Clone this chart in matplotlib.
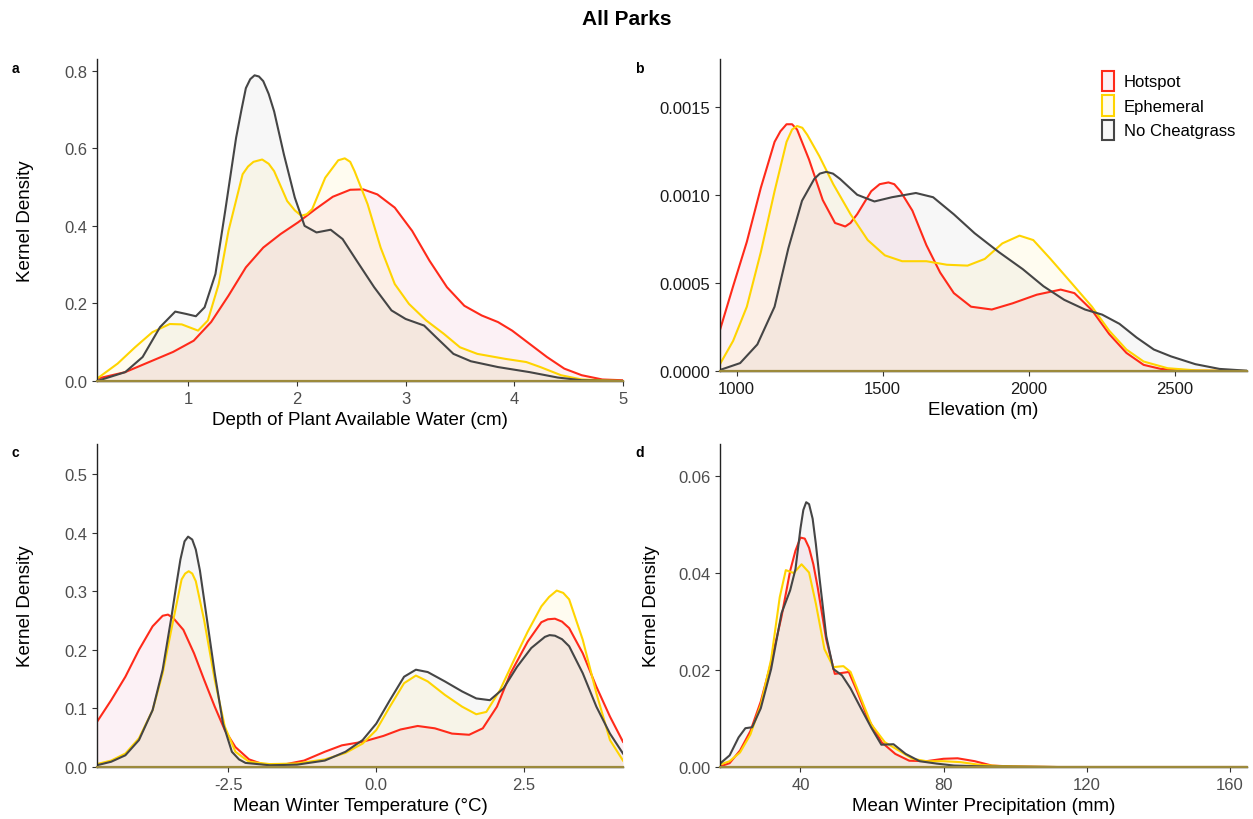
import matplotlib
matplotlib.use('Agg')
import matplotlib.pyplot as plt
from matplotlib.patches import Patch

plt.rcParams['font.family'] = ['Liberation Sans', 'DejaVu Sans']

groups = ['Hotspot', 'Ephemeral', 'No Cheatgrass']
line_cols = ['#ff2a1a', '#ffd400', '#454545']
fill_cols = ['#d81b60', '#ffd400', '#000000']
fill_alpha = [0.06, 0.06, 0.03]

# a: depth of plant available water (cm)
a_hot_x = [0.16, 0.42, 0.64, 0.86, 1.05, 1.21, 1.37, 1.53, 1.69, 1.85, 2.01, 2.17, 2.33, 2.49, 2.61,
           2.74, 2.90, 3.06, 3.22, 3.38, 3.54, 3.70, 3.85, 3.98, 4.14, 4.30, 4.46, 4.62, 4.81, 5.0]
a_hot_y = [0.006, 0.023, 0.049, 0.075, 0.104, 0.152, 0.220, 0.293, 0.344, 0.379, 0.409, 0.443, 0.475, 0.493, 0.494,
           0.481, 0.447, 0.387, 0.310, 0.242, 0.194, 0.169, 0.152, 0.130, 0.096, 0.062, 0.032, 0.015, 0.004, 0.002]
a_eph_x = [0.16, 0.35, 0.51, 0.67, 0.83, 0.94, 1.09, 1.18, 1.28, 1.37, 1.50, 1.55, 1.60, 1.68, 1.74, 1.79, 1.91,
           1.98, 2.04, 2.09, 2.14, 2.26, 2.38, 2.44, 2.49, 2.53, 2.65, 2.77, 2.90, 3.03, 3.19, 3.35, 3.50, 3.66,
           3.92, 4.11, 4.24, 4.43, 4.62, 5.0]
a_eph_y = [0.006, 0.045, 0.087, 0.126, 0.147, 0.146, 0.130, 0.156, 0.250, 0.387, 0.533, 0.553, 0.565, 0.571, 0.560,
           0.541, 0.464, 0.440, 0.426, 0.430, 0.443, 0.524, 0.569, 0.574, 0.565, 0.541, 0.456, 0.344, 0.250, 0.199,
           0.156, 0.122, 0.087, 0.070, 0.057, 0.049, 0.036, 0.015, 0.004, 0.0]
a_no_x = [0.16, 0.42, 0.58, 0.74, 0.88, 0.98, 1.07, 1.15, 1.25, 1.34, 1.44, 1.49, 1.53, 1.57, 1.61, 1.65, 1.69,
          1.74, 1.79, 1.88, 1.98, 2.07, 2.18, 2.31, 2.42, 2.55, 2.71, 2.87, 3.00, 3.17, 3.28, 3.44, 3.60, 3.85,
          4.14, 4.40, 4.62, 5.0]
a_no_y = [0.0, 0.023, 0.062, 0.139, 0.179, 0.173, 0.167, 0.190, 0.276, 0.439, 0.627, 0.700, 0.755, 0.778, 0.788,
          0.785, 0.773, 0.740, 0.695, 0.584, 0.473, 0.400, 0.383, 0.390, 0.366, 0.310, 0.242, 0.182, 0.160, 0.143,
          0.113, 0.070, 0.051, 0.036, 0.023, 0.009, 0.002, 0.0]

# b: elevation (m)
b_hot_x = [943, 988, 1035, 1083, 1130, 1150, 1171, 1190, 1207, 1248, 1295, 1337, 1355, 1372, 1390, 1413, 1461,
           1490, 1520, 1540, 1561, 1602, 1650, 1697, 1744, 1803, 1874, 1945, 2028, 2110, 2157, 2217, 2276, 2335,
           2394, 2453, 2571, 2748]
b_hot_y = [0.000233, 0.000481, 0.000733, 0.00104, 0.0013, 0.00136, 0.0014, 0.0014, 0.00137, 0.0012, 0.00097,
           0.00084, 0.00083, 0.00082, 0.00084, 0.00089, 0.00102, 0.00106, 0.00107, 0.00106, 0.00102, 0.00091,
           0.000714, 0.000559, 0.000442, 0.000365, 0.000349, 0.000384, 0.000433, 0.000462, 0.000442, 0.000345,
           0.00021, 0.000103, 0.000035, 0.000012, 0.000002, 0.0]
b_eph_x = [943, 988, 1035, 1083, 1130, 1171, 1190, 1207, 1225, 1242, 1283, 1331, 1390, 1449, 1508, 1567, 1650,
           1720, 1791, 1850, 1910, 1969, 2016, 2075, 2146, 2217, 2276, 2335, 2394, 2476, 2571, 2748]
b_eph_y = [0.000039, 0.000171, 0.000365, 0.000675, 0.00102, 0.0013, 0.00137, 0.00139, 0.00138, 0.00134, 0.00122,
           0.00106, 0.00089, 0.000743, 0.000656, 0.000623, 0.000623, 0.000603, 0.000598, 0.000636, 0.000724,
           0.000768, 0.000743, 0.000636, 0.000501, 0.000365, 0.000229, 0.000122, 0.000054, 0.000016, 0.000004, 0.0]
b_no_x = [943, 1012, 1071, 1130, 1177, 1224, 1266, 1285, 1307, 1330, 1354, 1413, 1472, 1532, 1614, 1673, 1744,
          1815, 1898, 1980, 2051, 2122, 2193, 2252, 2311, 2370, 2429, 2488, 2571, 2654, 2748]
b_no_y = [0.000006, 0.000045, 0.000151, 0.000365, 0.000695, 0.000966, 0.00109, 0.00112, 0.00113, 0.00112, 0.00109,
          0.001, 0.000962, 0.000986, 0.00101, 0.000986, 0.000889, 0.000782, 0.000675, 0.000578, 0.000481, 0.000404,
          0.000349, 0.00032, 0.000268, 0.00019, 0.000122, 0.000083, 0.000039, 0.000012, 0.000002]

# c: mean winter temperature (degC)
c_hot_x = [-4.72, -4.48, -4.24, -4.01, -3.78, -3.61, -3.52, -3.43, -3.26, -3.08, -2.91, -2.73, -2.56, -2.38,
           -2.15, -1.92, -1.57, -1.22, -0.87, -0.58, -0.23, 0.12, 0.41, 0.70, 0.99, 1.28, 1.57, 1.80, 2.04, 2.27,
           2.56, 2.79, 2.90, 3.02, 3.14, 3.26, 3.49, 3.72, 3.95, 4.17]
c_hot_y = [0.077, 0.114, 0.154, 0.200, 0.240, 0.258, 0.260, 0.254, 0.234, 0.194, 0.149, 0.103, 0.063, 0.034,
           0.013, 0.005, 0.004, 0.011, 0.026, 0.037, 0.043, 0.053, 0.064, 0.070, 0.066, 0.057, 0.055, 0.066, 0.103,
           0.160, 0.214, 0.247, 0.252, 0.253, 0.248, 0.237, 0.194, 0.137, 0.086, 0.043]
c_eph_x = [-4.72, -4.48, -4.24, -4.01, -3.78, -3.61, -3.43, -3.29, -3.23, -3.17, -3.11, -3.05, -2.91, -2.73,
           -2.56, -2.38, -2.15, -1.80, -1.34, -0.87, -0.52, -0.23, 0.0, 0.23, 0.47, 0.67, 0.87, 1.16, 1.45, 1.69,
           1.86, 2.09, 2.33, 2.56, 2.79, 2.92, 3.05, 3.16, 3.26, 3.49, 3.72, 3.95, 4.17]
c_eph_y = [0.005, 0.011, 0.023, 0.049, 0.097, 0.160, 0.251, 0.320, 0.330, 0.334, 0.330, 0.317, 0.251, 0.149,
           0.069, 0.026, 0.009, 0.005, 0.006, 0.013, 0.024, 0.040, 0.063, 0.103, 0.143, 0.156, 0.146, 0.123, 0.103,
           0.090, 0.094, 0.131, 0.183, 0.231, 0.274, 0.290, 0.301, 0.297, 0.286, 0.217, 0.126, 0.046, 0.011]
c_no_x = [-4.72, -4.48, -4.24, -4.01, -3.78, -3.61, -3.46, -3.38, -3.31, -3.24, -3.18, -3.11, -3.05, -2.98,
          -2.91, -2.73, -2.59, -2.44, -2.32, -2.21, -1.80, -1.34, -0.87, -0.52, -0.23, 0.0, 0.23, 0.47, 0.67, 0.87,
          1.16, 1.45, 1.69, 1.92, 2.15, 2.38, 2.62, 2.85, 2.93, 3.02, 3.14, 3.26, 3.49, 3.72, 3.95, 4.17]
c_no_y = [0.003, 0.009, 0.020, 0.046, 0.097, 0.166, 0.257, 0.310, 0.354, 0.385, 0.393, 0.388, 0.371, 0.335,
          0.286, 0.160, 0.074, 0.026, 0.013, 0.007, 0.003, 0.004, 0.011, 0.026, 0.046, 0.074, 0.114, 0.154, 0.166,
          0.162, 0.146, 0.129, 0.117, 0.114, 0.134, 0.171, 0.203, 0.222, 0.225, 0.224, 0.218, 0.206, 0.160, 0.103,
          0.057, 0.023]

# d: mean winter precipitation (mm)
d_hot_x = [17.5, 20.2, 23.1, 26.0, 28.9, 31.8, 34.7, 37.1, 38.6, 40.0, 41.2, 42.4, 43.6, 44.8, 47.2, 49.6, 51.6,
           53.5, 55.9, 58.8, 62.7, 66.5, 70.4, 75.2, 80.0, 83.9, 88.7, 93.5, 99.3, 111.8, 164.8]
d_hot_y = [0.0001, 0.0008, 0.0034, 0.0074, 0.0135, 0.0216, 0.031, 0.0404, 0.0446, 0.0473, 0.0471, 0.0452,
           0.0418, 0.0371, 0.0263, 0.0192, 0.0194, 0.0196, 0.0155, 0.0101, 0.0051, 0.0027, 0.0013, 0.0012, 0.0017,
           0.0018, 0.0012, 0.0003, 0.0001, 0.0, 0.0]
d_eph_x = [17.5, 20.2, 23.1, 26.0, 28.9, 31.8, 34.2, 35.9, 38.1, 40.3, 42.4, 44.3, 46.7, 49.2, 52.0, 54.0,
           56.9, 59.8, 63.6, 67.5, 71.3, 75.2, 80.0, 84.8, 89.6, 95.4, 102.2, 111.8, 164.8]
d_eph_y = [0.0005, 0.0012, 0.003, 0.0067, 0.0128, 0.0222, 0.035, 0.0406, 0.040, 0.0418, 0.0401, 0.0337, 0.0243,
           0.0206, 0.0208, 0.0196, 0.0142, 0.0088, 0.0051, 0.0034, 0.0017, 0.0012, 0.0012, 0.001, 0.0005, 0.0002,
           0.0001, 0.0, 0.0]
d_no_x = [17.5, 20.2, 22.7, 24.6, 26.5, 28.9, 31.8, 34.7, 37.1, 38.6, 40.0, 40.8, 41.6, 42.4, 43.4, 44.3, 45.3,
          47.2, 49.2, 51.6, 54.0, 56.9, 59.8, 62.6, 66.0, 69.4, 73.3, 78.1, 82.9, 92.5, 111.8, 164.8]
d_no_y = [0.0007, 0.0024, 0.0061, 0.008, 0.0082, 0.0121, 0.0202, 0.0317, 0.0364, 0.0408, 0.0492, 0.053, 0.0546,
          0.0542, 0.0512, 0.046, 0.0391, 0.027, 0.0202, 0.0189, 0.0162, 0.0121, 0.0081, 0.0046, 0.0047, 0.0027,
          0.0012, 0.0007, 0.0003, 0.0001, 0.0, 0.0]

panels = [
    dict(pos=[0.0774, 0.5341, 0.4198, 0.3927], tag='a', tagy=0.924, ylx=-0.1198,
         series=[(a_hot_x, a_hot_y), (a_eph_x, a_eph_y), (a_no_x, a_no_y)],
         xlim=(0.16, 5.0), ylim=(0, 0.83), xticks=[1, 2, 3, 4, 5], xtl=['1', '2', '3', '4', '5'],
         yticks=[0, 0.2, 0.4, 0.6, 0.8], ytl=['0.0', '0.2', '0.4', '0.6', '0.8'],
         xlabel='Depth of Plant Available Water (cm)', ylabel='Kernel Density', tc='#4d4d4d'),
    dict(pos=[0.5746, 0.5463, 0.4206, 0.3805], tag='b', tagy=0.924, ylx=None,
         series=[(b_hot_x, b_hot_y), (b_eph_x, b_eph_y), (b_no_x, b_no_y)],
         xlim=(943, 2748), ylim=(0, 0.00177), xticks=[1000, 1500, 2000, 2500],
         xtl=['1000', '1500', '2000', '2500'],
         yticks=[0, 0.0005, 0.001, 0.0015], ytl=['0.0000', '0.0005', '0.0010', '0.0015'],
         xlabel='Elevation (m)', ylabel=None, tc='#1a1a1a'),
    dict(pos=[0.0774, 0.0634, 0.4198, 0.3939], tag='c', tagy=0.456, ylx=-0.1198,
         series=[(c_hot_x, c_hot_y), (c_eph_x, c_eph_y), (c_no_x, c_no_y)],
         xlim=(-4.72, 4.17), ylim=(0, 0.551), xticks=[-2.5, 0, 2.5], xtl=['-2.5', '0.0', '2.5'],
         yticks=[0, 0.1, 0.2, 0.3, 0.4, 0.5], ytl=['0.0', '0.1', '0.2', '0.3', '0.4', '0.5'],
         xlabel='Mean Winter Temperature (°C)', ylabel='Kernel Density', tc='#4d4d4d'),
    dict(pos=[0.5746, 0.0634, 0.4206, 0.3939], tag='d', tagy=0.456, ylx=-0.1138,
         series=[(d_hot_x, d_hot_y), (d_eph_x, d_eph_y), (d_no_x, d_no_y)],
         xlim=(17.5, 164.8), ylim=(0, 0.0666), xticks=[40, 80, 120, 160], xtl=['40', '80', '120', '160'],
         yticks=[0, 0.02, 0.04, 0.06], ytl=['0.00', '0.02', '0.04', '0.06'],
         xlabel='Mean Winter Precipitation (mm)', ylabel='Kernel Density', tc='#4d4d4d'),
]

fig = plt.figure(figsize=(12.53, 8.2), dpi=100)
fig.text(0.5, 0.988, 'All Parks', ha='center', va='top', fontsize=15, fontweight='bold')

for p in panels:
    ax = fig.add_axes(p['pos'])
    for (x, y), lc, fc, fa in zip(p['series'], line_cols, fill_cols, fill_alpha):
        ax.fill_between(x, y, 0, color=fc, alpha=fa, linewidth=0)
        ax.plot(x, y, color=lc, lw=1.5, solid_joinstyle='round')
    ax.plot(p['xlim'], [0, 0], color='#9c8a3c', lw=1.6, clip_on=False, zorder=5)
    ax.set_xlim(p['xlim'])
    ax.set_ylim(p['ylim'])
    ax.set_xticks(p['xticks'])
    ax.set_xticklabels(p['xtl'])
    ax.set_yticks(p['yticks'])
    ax.set_yticklabels(p['ytl'])
    for s in ['top', 'right']:
        ax.spines[s].set_visible(False)
    for s in ['left', 'bottom']:
        ax.spines[s].set_color('#222222')
        ax.spines[s].set_linewidth(1.0)
    ax.tick_params(labelsize=12, colors='#333333', labelcolor=p['tc'], length=3.5, width=0.8)
    ax.set_xlabel(p['xlabel'], fontsize=13.5, labelpad=4)
    if p['ylabel']:
        ax.set_ylabel(p['ylabel'], fontsize=13.5)
        ax.yaxis.set_label_coords(p['ylx'], 0.5)
    fig.text(0.009 if p['tag'] in 'ac' else 0.507, p['tagy'], p['tag'],
             fontsize=10, fontweight='bold', va='top')

    if p['tag'] == 'b':
        leg_fill = ['#fcf0f4', '#fffcec', '#f7f7f7']
        handles = [Patch(facecolor=f, edgecolor=lc, linewidth=1.5) for f, lc in zip(leg_fill, line_cols)]
        ax.legend(handles, groups, loc='upper right', bbox_to_anchor=(1.0, 1.0), frameon=False,
                  fontsize=12, handlelength=0.7, handleheight=1.5, handletextpad=0.6, labelspacing=0.25,
                  borderaxespad=0.3)

fig.savefig('out.png', dpi=100)
